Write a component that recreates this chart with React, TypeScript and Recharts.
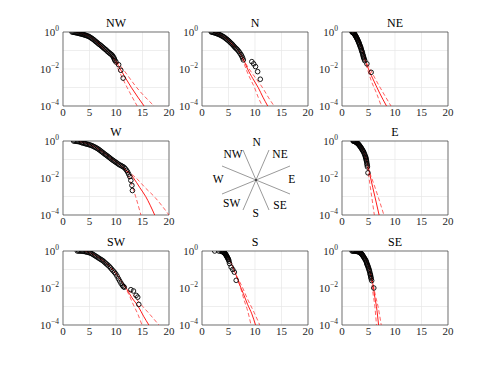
import React from "react";
import {
  ComposedChart, Scatter, Line, XAxis, YAxis, CartesianGrid,
  ReferenceArea, ReferenceLine,
} from "recharts";

type Pt = [number, number]; // [value, exceedance probability]

// NW
const nwObs: Pt[] = [
  [1.7, 1], [1.9, 0.98], [2.1, 0.96], [2.3, 0.93], [2.5, 0.91], [2.7, 0.88], [2.9, 0.85],
  [3.1, 0.83], [3.3, 0.8], [3.5, 0.77], [3.7, 0.75], [3.9, 0.72], [4.1, 0.69], [4.3, 0.66],
  [4.5, 0.63], [4.7, 0.6], [4.9, 0.57], [5.1, 0.52], [5.3, 0.48], [5.5, 0.44], [5.7, 0.4],
  [5.9, 0.36], [6.1, 0.32], [6.3, 0.29], [6.5, 0.26], [6.7, 0.23], [6.9, 0.21], [7.1, 0.19],
  [7.3, 0.17], [7.5, 0.15], [7.7, 0.135], [7.9, 0.12], [8.1, 0.11], [8.3, 0.095], [8.5, 0.085],
  [8.7, 0.076], [8.9, 0.068], [9.1, 0.062], [9.3, 0.055], [9.45, 0.047], [9.6, 0.04],
  [9.7, 0.034], [9.8, 0.029], [10.0, 0.024], [10.5, 0.017], [10.9, 0.0085], [11.35, 0.0032],
];
const nwFit: Pt[] = [
  [2.5, 0.95], [4, 0.75], [5, 0.58], [6, 0.36], [7, 0.2], [8, 0.11], [9, 0.06],
  [10, 0.025], [10.8, 0.01], [12.9, 0.001], [15.3, 0.0001],
];
const nwLo: Pt[] = [[9.3, 0.05], [10.4, 0.01], [12.1, 0.001], [14.0, 0.0001]];
const nwHi: Pt[] = [[9.3, 0.05], [11.3, 0.01], [13.9, 0.001], [17.2, 0.0001]];

// N
const nObs: Pt[] = [
  [1.75, 1], [1.95, 0.97], [2.15, 0.94], [2.35, 0.91], [2.55, 0.87], [2.75, 0.83],
  [2.95, 0.79], [3.15, 0.75], [3.35, 0.71], [3.55, 0.66], [3.75, 0.62], [3.95, 0.57],
  [4.15, 0.53], [4.35, 0.48], [4.55, 0.43], [4.75, 0.39], [4.95, 0.35], [5.15, 0.31],
  [5.35, 0.27], [5.55, 0.24], [5.75, 0.21], [5.95, 0.18], [6.15, 0.155], [6.35, 0.135],
  [6.55, 0.12], [6.75, 0.105], [6.95, 0.088], [7.15, 0.073], [7.35, 0.06], [7.5, 0.05],
  [7.65, 0.04], [7.8, 0.031], [9.4, 0.025], [9.75, 0.019], [10.1, 0.0135], [10.5, 0.0072],
  [11.0, 0.0028],
];
const nFit: Pt[] = [
  [2.2, 0.95], [3, 0.8], [4, 0.58], [5, 0.36], [6, 0.18], [7, 0.085], [7.8, 0.035],
  [8.6, 0.01], [9.6, 0.003], [10.6, 0.001], [11.5, 0.0003], [12.4, 0.0001],
];
const nLo: Pt[] = [[7.6, 0.04], [8.3, 0.01], [9.1, 0.003], [9.9, 0.001], [10.6, 0.0003], [11.4, 0.0001]];
const nHi: Pt[] = [[7.6, 0.04], [8.9, 0.01], [10.2, 0.003], [11.4, 0.001], [12.5, 0.0003], [13.6, 0.0001]];

// NE
const neObs: Pt[] = [
  [1.9, 1], [1.97, 0.98], [2.05, 0.95], [2.12, 0.91], [2.2, 0.87], [2.27, 0.83], [2.35, 0.78],
  [2.42, 0.72], [2.5, 0.66], [2.57, 0.61], [2.65, 0.56], [2.72, 0.51], [2.8, 0.46],
  [2.87, 0.42], [2.95, 0.38], [3.02, 0.34], [3.1, 0.3], [3.17, 0.27], [3.25, 0.24],
  [3.32, 0.21], [3.4, 0.18], [3.47, 0.16], [3.55, 0.14], [3.62, 0.12], [3.7, 0.1],
  [3.77, 0.088], [3.85, 0.075], [3.92, 0.062], [4.0, 0.052], [4.05, 0.045], [4.1, 0.04],
  [4.2, 0.034], [4.3, 0.028], [4.7, 0.019], [5.5, 0.0066],
];
const neFit: Pt[] = [
  [2.1, 0.95], [2.6, 0.7], [3, 0.42], [3.5, 0.2], [4, 0.08], [4.2, 0.045],
  [5.0, 0.01], [6.1, 0.002], [7.1, 0.0005], [8.4, 0.0001],
];
const neLo: Pt[] = [[4.2, 0.04], [4.8, 0.01], [5.6, 0.002], [6.5, 0.0005], [7.4, 0.0001]];
const neHi: Pt[] = [[4.2, 0.04], [5.3, 0.01], [6.6, 0.002], [7.8, 0.0005], [9.25, 0.0001]];

// W
const wObs: Pt[] = [
  [2.0, 1], [2.25, 0.98], [2.5, 0.965], [2.75, 0.95], [3.0, 0.92], [3.25, 0.88], [3.5, 0.82],
  [3.75, 0.78], [4.0, 0.75], [4.25, 0.71], [4.5, 0.68], [4.75, 0.65], [5.0, 0.62],
  [5.25, 0.59], [5.5, 0.55], [5.75, 0.51], [6.0, 0.47], [6.25, 0.43], [6.5, 0.39],
  [6.75, 0.35], [7.0, 0.31], [7.25, 0.27], [7.5, 0.24], [7.75, 0.21], [8.0, 0.185],
  [8.25, 0.165], [8.5, 0.145], [8.75, 0.128], [9.0, 0.112], [9.25, 0.098], [9.5, 0.088],
  [9.75, 0.078], [10.0, 0.07], [10.25, 0.062], [10.5, 0.055], [10.75, 0.05], [11.0, 0.046],
  [11.25, 0.042], [11.5, 0.038], [11.75, 0.032], [12.0, 0.026], [12.2, 0.021], [12.4, 0.016],
  [12.6, 0.012], [12.8, 0.0074], [13.0, 0.004], [13.1, 0.0021],
];
const wFit: Pt[] = [
  [3, 0.95], [4, 0.8], [5, 0.65], [6, 0.48], [7, 0.32], [8, 0.2], [9, 0.12], [10, 0.075],
  [11, 0.045], [12, 0.025], [13.3, 0.01], [14.5, 0.003], [15.6, 0.001], [17.3, 0.0001],
];
const wLo: Pt[] = [[11.8, 0.028], [12.5, 0.01], [13.7, 0.001], [14.7, 0.0001]];
const wHi: Pt[] = [[12, 0.025], [13.8, 0.01], [15.5, 0.003], [17.2, 0.001], [20, 0.0001]];

// E
const eObs: Pt[] = [
  [2.1, 1], [2.2, 0.99], [2.3, 0.97], [2.4, 0.95], [2.5, 0.92], [2.6, 0.88], [2.7, 0.84],
  [2.8, 0.8], [2.9, 0.76], [3.0, 0.71], [3.1, 0.67], [3.2, 0.62], [3.3, 0.57], [3.4, 0.52],
  [3.5, 0.47], [3.6, 0.43], [3.7, 0.39], [3.8, 0.35], [3.9, 0.31], [4.0, 0.28], [4.1, 0.25],
  [4.2, 0.21], [4.3, 0.18], [4.4, 0.15], [4.45, 0.135], [4.5, 0.12], [4.55, 0.105],
  [4.6, 0.09], [4.65, 0.075], [4.7, 0.06], [4.75, 0.05], [4.8, 0.04], [4.9, 0.019],
];
const eFit: Pt[] = [
  [2.6, 0.95], [3, 0.8], [3.5, 0.55], [4, 0.3], [4.5, 0.12], [5.0, 0.035],
  [5.4, 0.01], [6.2, 0.001], [7.0, 0.0001],
];
const eLo: Pt[] = [[4.8, 0.04], [5.1, 0.01], [5.6, 0.001], [6.1, 0.0001]];
const eHi: Pt[] = [[4.8, 0.04], [5.6, 0.01], [6.8, 0.001], [7.9, 0.0001]];

// SW
const swObs: Pt[] = [
  [2.7, 1], [2.95, 1], [3.2, 0.99], [3.45, 0.985], [3.7, 0.97], [3.95, 0.95], [4.2, 0.92],
  [4.45, 0.88], [4.7, 0.85], [4.95, 0.81], [5.2, 0.77], [5.45, 0.71], [5.7, 0.64],
  [5.95, 0.58], [6.2, 0.52], [6.45, 0.47], [6.7, 0.42], [6.95, 0.38], [7.2, 0.34],
  [7.45, 0.31], [7.7, 0.27], [7.95, 0.23], [8.2, 0.2], [8.45, 0.175], [8.7, 0.15],
  [8.95, 0.125], [9.2, 0.103], [9.45, 0.085], [9.7, 0.071], [9.95, 0.058], [10.2, 0.044],
  [10.45, 0.032], [10.7, 0.024], [10.95, 0.018], [11.2, 0.014], [11.4, 0.012], [11.55, 0.011],
  [12.8, 0.0081], [13.3, 0.0069], [13.8, 0.004], [14.1, 0.0032], [14.3, 0.0013],
];
const swFit: Pt[] = [
  [4.2, 0.95], [5, 0.82], [6, 0.6], [7, 0.4], [8, 0.24], [9, 0.13], [10, 0.06], [11, 0.024],
  [12, 0.009], [13, 0.003], [14.2, 0.001], [15.2, 0.0003], [16.2, 0.0001],
];
const swLo: Pt[] = [[11.5, 0.014], [12.5, 0.004], [13.3, 0.0012], [14.1, 0.0004], [14.9, 0.0001]];
const swHi: Pt[] = [[11.5, 0.014], [13, 0.005], [14.5, 0.0015], [16.3, 0.0004], [18.1, 0.0001]];

// S
const sObs: Pt[] = [
  [2.4, 1], [3.2, 0.99], [3.6, 0.97], [3.8, 0.95], [3.87, 0.93], [3.95, 0.9], [4.02, 0.87],
  [4.1, 0.85], [4.17, 0.81], [4.25, 0.78], [4.32, 0.74], [4.4, 0.7], [4.47, 0.65],
  [4.55, 0.6], [4.62, 0.55], [4.7, 0.5], [4.77, 0.46], [4.85, 0.42], [4.92, 0.38],
  [5.0, 0.34], [5.1, 0.28], [5.2, 0.21], [5.5, 0.135], [5.8, 0.1], [6.1, 0.072], [6.45, 0.026],
];
const sFit: Pt[] = [
  [3.9, 1], [4.5, 0.7], [5, 0.42], [5.5, 0.22], [6, 0.1], [6.5, 0.045], [7, 0.018],
  [7.8, 0.005], [8.6, 0.0013], [9.4, 0.0004], [10.1, 0.0001],
];
const sLo: Pt[] = [[6.5, 0.045], [7.2, 0.012], [8, 0.002], [8.6, 0.0006], [9.25, 0.0001]];
const sHi: Pt[] = [[6.5, 0.045], [7.5, 0.013], [8.6, 0.0025], [9.8, 0.0005], [10.9, 0.0001]];

// SE
const seObs: Pt[] = [
  [1.9, 1], [2.05, 1], [2.2, 1], [2.35, 0.995], [2.5, 0.99], [2.65, 0.97], [2.8, 0.95],
  [2.95, 0.93], [3.1, 0.9], [3.25, 0.87], [3.4, 0.82], [3.5, 0.78], [3.6, 0.74], [3.7, 0.69],
  [3.8, 0.64], [3.9, 0.58], [4.0, 0.52], [4.1, 0.47], [4.2, 0.42], [4.3, 0.38], [4.4, 0.34],
  [4.5, 0.3], [4.6, 0.26], [4.65, 0.23], [4.7, 0.2], [4.78, 0.18], [4.85, 0.16], [4.92, 0.14],
  [5.0, 0.12], [5.08, 0.105], [5.15, 0.089], [5.22, 0.075], [5.3, 0.06], [5.35, 0.052],
  [5.4, 0.045], [5.45, 0.038], [5.5, 0.032], [5.6, 0.025], [6.0, 0.01],
];
const seFit: Pt[] = [
  [2.8, 0.95], [3.5, 0.8], [4, 0.6], [4.5, 0.35], [5, 0.15], [5.5, 0.045], [5.9, 0.012],
  [6.2, 0.003], [6.5, 0.001], [6.9, 0.0001],
];
const seLo: Pt[] = [[5.3, 0.07], [5.6, 0.02], [5.9, 0.004], [6.2, 0.001], [6.5, 0.0001]];
const seHi: Pt[] = [[5.3, 0.07], [5.8, 0.02], [6.3, 0.004], [6.8, 0.001], [7.4, 0.0001]];

const xTicks = [0, 5, 10, 15, 20];
const yTicks = [1e-4, 1e-3, 1e-2, 1e-1, 1];
const compassNames = ["N", "NE", "E", "SE", "S", "SW", "W", "NW"];

const panels = [
  { name: "NW", obs: nwObs, fit: nwFit, lo: nwLo, hi: nwHi },
  { name: "N", obs: nObs, fit: nFit, lo: nLo, hi: nHi },
  { name: "NE", obs: neObs, fit: neFit, lo: neLo, hi: neHi },
  { name: "W", obs: wObs, fit: wFit, lo: wLo, hi: wHi },
  { name: "E", obs: eObs, fit: eFit, lo: eLo, hi: eHi },
  { name: "SW", obs: swObs, fit: swFit, lo: swLo, hi: swHi },
  { name: "S", obs: sObs, fit: sFit, lo: sLo, hi: sHi },
  { name: "SE", obs: seObs, fit: seFit, lo: seLo, hi: seHi },
];

// layout
const FONT = '"Liberation Serif", "DejaVu Serif", serif';
const colLeft = [63, 202, 342];
const rowTop = [32, 141, 251];
const slot: Record<string, [number, number]> = {
  NW: [0, 0], N: [1, 0], NE: [2, 0], W: [0, 1], E: [2, 1], SW: [0, 2], S: [1, 2], SE: [2, 2],
};
const PW = 106;
const PH = 74;
const AXW = 40;
const TOPM = 10;
const AXH = 20;

// compass rose, pixel offsets from centre (y up)
const compassCentre = [256, 179.5];
const spokes = [
  [-13, 30, 13, -30], [13, 30, -13, -30], [-34, 14, 34, -14], [-34, -14, 34, 14],
];
const labelPos: Record<string, [number, number]> = {
  N: [0.7, 37.8], NE: [24, 26.5], E: [35.7, 1.5], SE: [24, -24.5],
  S: [-0.3, -33.2], SW: [-24.3, -23.2], W: [-37.7, 1.2], NW: [-23, 26.5],
};

const rows = (pts: Pt[]) => pts.map(([x, p]) => ({ x, p }));
const txt = { fontFamily: FONT };

function YTick({ x, y, payload }: any) {
  const e = Math.round(Math.log10(payload.value));
  if (e % 2 !== 0) return null;
  return (
    <text x={x - 4} y={y + 4} textAnchor="end" fontSize={11} fill="#262626" style={txt}>
      10<tspan dy={-5} fontSize={7.5}>{e === 0 ? "0" : "\u2212" + -e}</tspan>
    </text>
  );
}

function XTick({ x, y, payload }: any) {
  return (
    <text x={x} y={y + 10} textAnchor="middle" fontSize={11} fill="#262626" style={txt}>
      {payload.value}
    </text>
  );
}

const ring = (props: any) => (
  <circle cx={props.cx} cy={props.cy} r={2.3} fill="none" stroke="#000" strokeWidth={0.9} />
);

function Panel({ panel }: { panel: (typeof panels)[number] }) {
  const [c, r] = slot[panel.name];
  const left = colLeft[c];
  const top = rowTop[r];
  return (
    <>
      <div
        style={{
          position: "absolute", left, top: top - 15, width: PW, textAlign: "center",
          fontFamily: FONT, fontSize: 12, lineHeight: "12px", color: "#000",
        }}
      >
        {panel.name}
      </div>
      <div style={{ position: "absolute", left: left - AXW, top: top - TOPM }}>
        <ComposedChart
          width={AXW + PW + 6}
          height={TOPM + PH + AXH}
          margin={{ top: TOPM, right: 6, left: 0, bottom: 0 }}
        >
          <CartesianGrid stroke="#e6e6e6" strokeWidth={0.7} />
          <XAxis
            type="number" dataKey="x" domain={[0, 20]} ticks={xTicks} height={AXH}
            axisLine={false} tickLine={false} tickSize={0} tickMargin={0}
            tick={<XTick />} interval={0} allowDataOverflow
          />
          <YAxis
            type="number" dataKey="p" scale="log" domain={[1e-4, 1]} ticks={yTicks} width={AXW}
            axisLine={false} tickLine={false} tickSize={0} tickMargin={0}
            tick={<YTick />} interval={0} allowDataOverflow
          />
          <Scatter data={rows(panel.obs)} shape={ring} isAnimationActive={false} />
          <Line data={rows(panel.fit)} dataKey="p" type="monotone" stroke="#ff0000"
            strokeWidth={0.9} dot={false} isAnimationActive={false} />
          <Line data={rows(panel.lo)} dataKey="p" type="monotone" stroke="#ff2020"
            strokeWidth={0.7} strokeDasharray="4 2.5" dot={false} isAnimationActive={false} />
          <Line data={rows(panel.hi)} dataKey="p" type="monotone" stroke="#ff2020"
            strokeWidth={0.7} strokeDasharray="4 2.5" dot={false} isAnimationActive={false} />
          <ReferenceArea x1={0} x2={20} y1={1e-4} y2={1} fill="none" stroke="#404040"
            strokeWidth={0.7} ifOverflow="visible" />
        </ComposedChart>
      </div>
    </>
  );
}

function Compass() {
  const labels = compassNames.map((name) => ({ x: labelPos[name][0], y: labelPos[name][1], name }));
  return (
    <div style={{ position: "absolute", left: compassCentre[0] - 50, top: compassCentre[1] - 50 }}>
      <ComposedChart width={100} height={100} margin={{ top: 0, right: 0, left: 0, bottom: 0 }}>
        <XAxis type="number" dataKey="x" domain={[-50, 50]} hide />
        <YAxis type="number" dataKey="y" domain={[-50, 50]} hide />
        {spokes.map((s, i) => (
          <ReferenceLine key={i} segment={[{ x: s[0], y: s[1] }, { x: s[2], y: s[3] }]}
            stroke="#808080" strokeWidth={0.8} ifOverflow="visible" />
        ))}
        <Scatter data={[{ x: 0, y: 0 }]} isAnimationActive={false}
          shape={(p: any) => <circle cx={p.cx} cy={p.cy} r={1} fill="#333" />} />
        <Scatter data={labels} isAnimationActive={false}
          shape={(p: any) => (
            <text x={p.cx} y={p.cy} dy="0.35em" textAnchor="middle" fontSize={11.5}
              style={txt} fill="#000">{p.payload.name}</text>
          )} />
      </ComposedChart>
    </div>
  );
}

export default function App() {
  return (
    <div style={{ position: "fixed", left: 0, top: 0, width: 495, height: 365, background: "#fff" }}>
      {panels.map((p) => <Panel key={p.name} panel={p} />)}
      <Compass />
    </div>
  );
}
